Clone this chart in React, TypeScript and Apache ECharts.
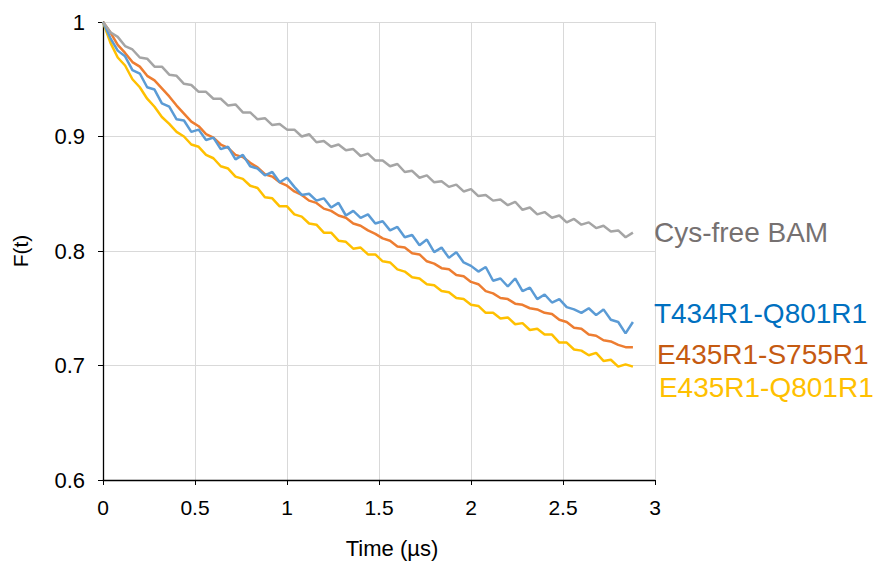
import React, { useEffect, useRef } from "react";
import * as echarts from "echarts";

const times = [0,0.04,0.08,0.12,0.16,0.2,0.24,0.28,0.32,0.36,0.4,0.44,0.48,0.52,0.56,0.6,0.64,0.68,0.72,0.76,0.8,0.84,0.88,0.92,0.96,1.0,1.04,1.08,1.12,1.16,1.2,1.24,1.28,1.32,1.36,1.4,1.44,1.48,1.52,1.56,1.6,1.64,1.68,1.72,1.76,1.8,1.84,1.88,1.92,1.96,2.0,2.04,2.08,2.12,2.16,2.2,2.24,2.28,2.32,2.36,2.4,2.44,2.48,2.52,2.56,2.6,2.64,2.68,2.72,2.76,2.8,2.84,2.88];

const cysFree = [1.000,0.991,0.987,0.979,0.976,0.969,0.968,0.961,0.961,0.954,0.953,0.946,0.945,0.939,0.939,0.933,0.933,0.927,0.928,0.921,0.921,0.915,0.916,0.910,0.911,0.906,0.906,0.900,0.902,0.895,0.896,0.891,0.893,0.888,0.889,0.883,0.885,0.879,0.879,0.874,0.876,0.869,0.870,0.864,0.866,0.860,0.861,0.856,0.858,0.852,0.854,0.848,0.849,0.844,0.845,0.840,0.843,0.836,0.838,0.832,0.834,0.829,0.831,0.825,0.828,0.823,0.825,0.820,0.822,0.817,0.818,0.812,0.816];

const t434 = [1.000,0.986,0.975,0.970,0.958,0.955,0.943,0.941,0.929,0.926,0.915,0.914,0.904,0.906,0.897,0.899,0.889,0.891,0.880,0.884,0.874,0.872,0.866,0.869,0.860,0.864,0.856,0.849,0.850,0.844,0.846,0.838,0.842,0.831,0.835,0.829,0.832,0.824,0.826,0.818,0.821,0.812,0.814,0.805,0.810,0.799,0.803,0.794,0.799,0.790,0.787,0.782,0.786,0.774,0.776,0.769,0.776,0.765,0.768,0.758,0.762,0.755,0.758,0.751,0.749,0.746,0.750,0.744,0.749,0.740,0.738,0.728,0.738];

const e435s755 = [1.000,0.991,0.980,0.973,0.965,0.961,0.953,0.949,0.942,0.935,0.927,0.920,0.913,0.909,0.902,0.899,0.893,0.890,0.884,0.882,0.877,0.873,0.867,0.865,0.860,0.857,0.852,0.849,0.844,0.842,0.837,0.835,0.831,0.829,0.824,0.822,0.818,0.815,0.811,0.809,0.804,0.803,0.798,0.797,0.791,0.789,0.785,0.784,0.779,0.778,0.773,0.771,0.765,0.763,0.759,0.758,0.754,0.753,0.750,0.749,0.746,0.745,0.740,0.738,0.733,0.732,0.727,0.726,0.722,0.721,0.718,0.716,0.716];

const e435q801 = [1.000,0.982,0.969,0.962,0.950,0.943,0.933,0.926,0.917,0.911,0.904,0.900,0.893,0.891,0.884,0.881,0.874,0.872,0.865,0.863,0.857,0.855,0.847,0.846,0.839,0.839,0.832,0.830,0.824,0.823,0.816,0.816,0.809,0.808,0.802,0.803,0.797,0.797,0.791,0.790,0.784,0.782,0.777,0.776,0.771,0.770,0.765,0.764,0.759,0.758,0.753,0.752,0.746,0.746,0.741,0.742,0.736,0.737,0.731,0.732,0.727,0.727,0.720,0.720,0.714,0.713,0.709,0.711,0.704,0.705,0.699,0.701,0.699];

const seriesNames = ["Cys-free BAM", "T434R1-Q801R1", "E435R1-S755R1", "E435R1-Q801R1"];
const seriesValues = [cysFree, t434, e435s755, e435q801];
const lineColors = ["#A5A5A5", "#5B9BD5", "#ED7D31", "#FFC000"];
const labelColors = ["#767171", "#0070C0", "#C55A11", "#FFC000"];
const labelOffsets = [[21, 0], [21, -8], [24, 7], [26, 21]];

const xTicks = { min: 0, max: 3, interval: 0.5 };
const yTicks = { min: 0.6, max: 1, interval: 0.1 };

export default function App() {
  const ref = useRef<HTMLDivElement>(null);
  useEffect(() => {
    if (!ref.current) return;
    const chart = echarts.init(ref.current, undefined, { renderer: "svg" });
    const font = "Liberation Sans, Arial, sans-serif";
    chart.setOption({
      animation: false,
      backgroundColor: "#ffffff",
      grid: { left: 103, right: 220, top: 22, bottom: 86, containLabel: false },
      xAxis: {
        type: "value",
        min: xTicks.min,
        max: xTicks.max,
        interval: xTicks.interval,
        name: "Time (µs)",
        nameLocation: "middle",
        nameGap: 57,
        nameTextStyle: { color: "#000", fontSize: 22, fontFamily: font, padding: [0, 0, 0, 26] },
        axisLine: { onZero: false, lineStyle: { color: "#000", width: 1.3 } },
        axisTick: { show: true, length: 5, lineStyle: { color: "#000" } },
        axisLabel: { color: "#000", fontSize: 21, fontFamily: font, margin: 17 },
        splitLine: { show: true, lineStyle: { color: "#D9D9D9", width: 1 } },
      },
      yAxis: {
        type: "value",
        min: yTicks.min,
        max: yTicks.max,
        interval: yTicks.interval,
        name: "F(t)",
        nameLocation: "middle",
        nameGap: 72,
        nameTextStyle: { color: "#000", fontSize: 21, fontFamily: font },
        axisLine: { show: true, lineStyle: { color: "#000", width: 1.3 } },
        axisTick: { show: true, length: 5, lineStyle: { color: "#000" } },
        axisLabel: { color: "#000", fontSize: 22, fontFamily: font, margin: 18 },
        splitLine: { show: true, lineStyle: { color: "#D9D9D9", width: 1 } },
      },
      series: seriesNames.map((name, i) => ({
        name,
        type: "line",
        showSymbol: false,
        symbol: "none",
        data: times.map((t, k) => [t, seriesValues[i][k]]),
        lineStyle: { color: lineColors[i], width: 2.5 },
        itemStyle: { color: lineColors[i] },
        z: 10 - i,
        endLabel: {
          show: true,
          formatter: name,
          color: labelColors[i],
          fontSize: 28,
          fontFamily: font,
          distance: 0,
          offset: labelOffsets[i],
        },
      })),
    });
    return () => chart.dispose();
  }, []);
  return (
    <div
      ref={ref}
      style={{ position: "fixed", left: 0, top: 0, width: 875, height: 566 }}
    />
  );
}
